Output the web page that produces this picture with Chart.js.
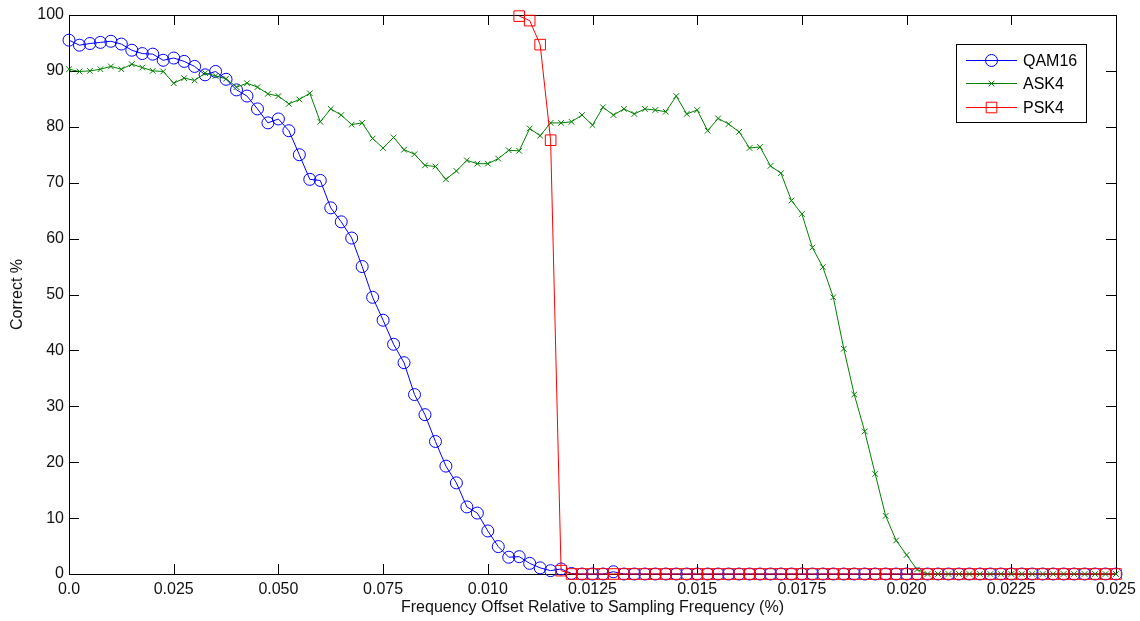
<!DOCTYPE html>
<html>
<head>
<meta charset="utf-8">
<script src="https://cdn.jsdelivr.net/npm/chart.js@4/dist/chart.umd.min.js"></script>
<style>
  html, body { margin: 0; padding: 0; background: #fff; }
  #wrap { width: 1140px; height: 621px; }
</style>
</head>
<body>
<div id="wrap"><canvas id="myChart" width="1140" height="621"></canvas></div>
<script>
// frequency offset grid, 101 samples
const offsets = Array.from({ length: 101 }, (_, i) => +(i * 0.00025).toFixed(5));

const xTickLabels = ["0.0", "0.025", "0.050", "0.075", "0.010", "0.0125",
    "0.015", "0.0175", "0.020", "0.0225", "0.025"];

const qam16 = [
    95.5, 94.6, 94.9, 95.1, 95.3, 94.8, 93.7, 93.1, 93.0, 91.9,
    92.3, 91.7, 90.8, 89.3, 89.9, 88.5, 86.6, 85.5, 83.2, 80.7,
    81.4, 79.3, 75.0, 70.6, 70.4, 65.5, 63.0, 60.1, 55.0, 49.5,
    45.4, 41.1, 37.8, 32.1, 28.5, 23.7, 19.3, 16.3, 12.0, 10.9,
    7.7, 4.9, 3.0, 3.1, 1.9, 1.1, 0.6, 0.9, 0.1, 0,
    0, 0, 0.4, 0, 0, 0, 0, 0, 0, 0,
    0, 0, 0, 0, 0, 0, 0, 0, 0, 0,
    0, 0, 0, 0, 0, 0, 0, 0, 0, 0,
    0, 0, 0, 0, 0, 0, 0, 0, 0, 0,
    0, 0, 0, 0, 0, 0, 0, 0, 0, 0,
    0
];

const ask4 = [
    90.3, 89.9, 90.0, 90.3, 90.8, 90.3, 91.2, 90.6, 90.0, 89.9,
    87.8, 88.7, 88.3, 89.6, 89.1, 88.6, 87.1, 87.8, 87.1, 85.9,
    85.5, 84.1, 84.9, 86.0, 80.9, 83.2, 82.1, 80.4, 80.7, 77.9,
    76.2, 78.1, 75.9, 75.1, 73.1, 72.9, 70.6, 72.1, 74.0, 73.4,
    73.4, 74.3, 75.8, 75.7, 79.7, 78.4, 80.7, 80.7, 80.9, 82.1,
    80.3, 83.5, 82.1, 83.2, 82.3, 83.2, 83.0, 82.7, 85.5, 82.3,
    83.0, 79.3, 81.5, 80.5, 79.1, 76.2, 76.4, 73.0, 71.7, 66.8,
    64.4, 58.4, 54.9, 49.5, 40.3, 32.1, 25.5, 17.9, 10.4, 6.0,
    3.4, 0.8, 0, 0, 0, 0, 0, 0, 0, 0,
    0, 0, 0, 0, 0, 0, 0, 0, 0, 0,
    0
];

const psk4 = [
    null, null, null, null, null, null, null, null, null, null,
    null, null, null, null, null, null, null, null, null, null,
    null, null, null, null, null, null, null, null, null, null,
    null, null, null, null, null, null, null, null, null, null,
    null, null, null, 99.8, 99.0, 94.7, 77.6, 0.6, 0, 0,
    0, 0, 0, 0, 0, 0, 0, 0, 0, 0,
    0, 0, 0, 0, 0, 0, 0, 0, 0, 0,
    0, 0, 0, 0, 0, 0, 0, 0, 0, 0,
    0, 0, 0, 0, 0, 0, 0, 0, 0, 0,
    0, 0, 0, 0, 0, 0, 0, 0, 0, 0,
    0
];

const FONT = "'Liberation Sans', Arial, Helvetica, sans-serif";

const series = [
    { label: "QAM16", values: qam16, color: "#0000ff", style: "circle", radius: 6, order: 2 },
    { label: "ASK4", values: ask4, color: "#008000", style: "crossRot", radius: 4, order: 1 },
    { label: "PSK4", values: psk4, color: "#ff0000", style: "rect", radius: 7.5, order: 0 },
];

// box outline with inward ticks on all four sides
const axesBox = {
    id: "axesBox",
    beforeDatasetsDraw(chart) {
        const { ctx, chartArea: a, scales: { x, y } } = chart;
        const len = 10;
        ctx.save();
        ctx.strokeStyle = "#000";
        ctx.lineWidth = 1;
        ctx.strokeRect(a.left + 0.5, a.top + 0.5, a.right - a.left, a.bottom - a.top);
        ctx.beginPath();
        x.ticks.forEach((t) => {
            const px = Math.round(x.getPixelForValue(t.value)) + 0.5;
            ctx.moveTo(px, a.bottom);
            ctx.lineTo(px, a.bottom - len);
            ctx.moveTo(px, a.top);
            ctx.lineTo(px, a.top + len);
        });
        y.ticks.forEach((t) => {
            const py = Math.round(y.getPixelForValue(t.value)) + 0.5;
            ctx.moveTo(a.left, py);
            ctx.lineTo(a.left + len, py);
            ctx.moveTo(a.right, py);
            ctx.lineTo(a.right - len, py);
        });
        ctx.stroke();
        ctx.restore();
    },
};

// boxed legend in the upper right corner
const boxedLegend = {
    id: "boxedLegend",
    afterDatasetsDraw(chart) {
        const { ctx, chartArea: a } = chart;
        const w = 130, h = 78;
        const bx = a.right - 30 - w, by = a.top + 29;
        ctx.save();
        ctx.fillStyle = "#fff";
        ctx.fillRect(bx, by, w, h);
        ctx.strokeStyle = "#000";
        ctx.lineWidth = 1;
        ctx.strokeRect(bx + 0.5, by + 0.5, w, h);
        ctx.font = "16px " + FONT;
        ctx.textBaseline = "middle";
        series.forEach((s, i) => {
            const cy = Math.round(by + 15.5 + i * 23.5) + 0.5;
            ctx.strokeStyle = s.color;
            ctx.lineWidth = 1;
            ctx.beginPath();
            ctx.moveTo(bx + 10, cy);
            ctx.lineTo(bx + 61, cy);
            ctx.stroke();
            ctx.fillStyle = "rgba(0,0,0,0)";
            ctx.strokeStyle = s.color;
            Chart.helpers.drawPoint(ctx, {
                pointStyle: s.style,
                radius: s.radius,
                borderWidth: 1,
                rotation: 0,
            }, bx + 35.5, cy);
            ctx.fillStyle = "#000";
            ctx.fillText(s.label, bx + 67, cy + 1);
        });
        ctx.restore();
    },
};

const config = {
    type: "line",
    data: {
        labels: offsets,
        datasets: series.map((s) => ({
            label: s.label,
            data: s.values.map((v, i) => ({ x: offsets[i], y: v })),
            borderColor: s.color,
            backgroundColor: "rgba(0,0,0,0)",
            borderWidth: 1,
            pointStyle: s.style,
            pointRadius: s.radius,
            pointBorderColor: s.color,
            pointBackgroundColor: "rgba(0,0,0,0)",
            pointBorderWidth: 1,
            tension: 0,
            clip: false,
            order: s.order,
        })),
    },
    options: {
        responsive: false,
        animation: false,
        layout: {
            padding: { top: 15, right: 24, left: 0, bottom: 0 },
        },
        scales: {
            x: {
                type: "linear",
                min: 0,
                max: 0.025,
                grid: { display: false, drawTicks: false },
                border: { display: false },
                ticks: {
                    stepSize: 0.0025,
                    autoSkip: false,
                    maxRotation: 0,
                    padding: 6,
                    color: "#111",
                    font: { family: FONT, size: 16 },
                    callback: (v, i) => xTickLabels[i],
                },
                title: {
                    display: true,
                    text: "Frequency Offset Relative to Sampling Frequency (%)",
                    color: "#111",
                    font: { family: FONT, size: 16 },
                    padding: { top: 0, bottom: 4 },
                },
                afterFit: (scale) => {
                    scale.height = 47;
                    scale.paddingLeft = 0;
                    scale.paddingRight = 0;
                },
            },
            y: {
                min: 0,
                max: 100,
                grid: { display: false, drawTicks: false },
                border: { display: false },
                ticks: {
                    stepSize: 10,
                    padding: 5,
                    color: "#111",
                    font: { family: FONT, size: 16 },
                },
                title: {
                    display: true,
                    text: "Correct %",
                    color: "#111",
                    font: { family: FONT, size: 16 },
                    padding: { top: 8, bottom: 0 },
                },
                afterFit: (scale) => {
                    scale.width = 69;
                    scale.paddingTop = 0;
                    scale.paddingBottom = 0;
                },
            },
        },
        plugins: {
            legend: { display: false },
            tooltip: { enabled: false },
        },
    },
    plugins: [axesBox, boxedLegend],
};

const myChart = new Chart(document.getElementById("myChart").getContext("2d"), config);
</script>
</body>
</html>
